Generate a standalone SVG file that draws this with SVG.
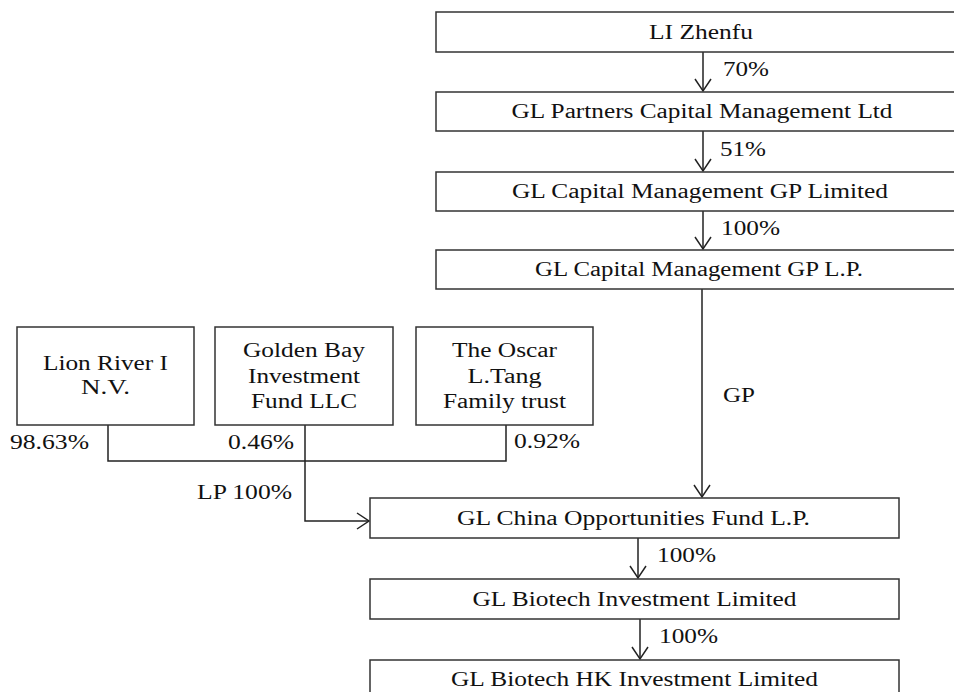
<svg xmlns="http://www.w3.org/2000/svg" width="954" height="692" viewBox="0 0 954 692">
<style>
.box{fill:#fff;stroke:#333;stroke-width:1.5}
.t{font-family:"Liberation Serif","Times New Roman",serif;font-size:20px;fill:#111;text-anchor:middle}
.l{font-family:"Liberation Serif","Times New Roman",serif;font-size:20px;fill:#111}
.c{fill:none;stroke:#222;stroke-width:1.5}
</style>
<defs>
<marker id="ah" markerUnits="userSpaceOnUse" markerWidth="16" markerHeight="20" refX="13" refY="9" orient="auto">
<path d="M1,1 L13,9 L1,17" fill="none" stroke="#222" stroke-width="1.5"/>
</marker>
</defs>
<rect width="954" height="692" fill="#fff"/>
<g id="connectors">
<line class="c" x1="703" y1="52" x2="703" y2="91" marker-end="url(#ah)"/>
<line class="c" x1="703" y1="131" x2="703" y2="171" marker-end="url(#ah)"/>
<line class="c" x1="703" y1="211" x2="703" y2="249" marker-end="url(#ah)"/>
<line class="c" x1="702" y1="289" x2="702" y2="497" marker-end="url(#ah)"/>
<polyline class="c" points="108,425 108,461 506,461 506,425"/>
<polyline class="c" points="305,425 305,521 369,521" marker-end="url(#ah)"/>
<line class="c" x1="638" y1="538" x2="638" y2="578" marker-end="url(#ah)"/>
<line class="c" x1="640" y1="619" x2="640" y2="659" marker-end="url(#ah)"/>
<text class="l" x="723" y="76" textLength="46" lengthAdjust="spacingAndGlyphs">70%</text>
<text class="l" x="720" y="156" textLength="46" lengthAdjust="spacingAndGlyphs">51%</text>
<text class="l" x="721" y="235" textLength="59" lengthAdjust="spacingAndGlyphs">100%</text>
<text class="l" x="723" y="402" textLength="32" lengthAdjust="spacingAndGlyphs">GP</text>
<text class="l" x="10" y="449" textLength="79" lengthAdjust="spacingAndGlyphs">98.63%</text>
<text class="l" x="228" y="449" textLength="66" lengthAdjust="spacingAndGlyphs">0.46%</text>
<text class="l" x="514" y="448" textLength="66" lengthAdjust="spacingAndGlyphs">0.92%</text>
<text class="l" x="197" y="499" textLength="95" lengthAdjust="spacingAndGlyphs">LP 100%</text>
<text class="l" x="657" y="562" textLength="59" lengthAdjust="spacingAndGlyphs">100%</text>
<text class="l" x="659" y="643" textLength="59" lengthAdjust="spacingAndGlyphs">100%</text>
</g>
<g id="li-zhenfu">
<rect class="box" x="436" y="12" width="530" height="40"/>
<text class="t" x="701" y="38.5" textLength="104" lengthAdjust="spacingAndGlyphs">LI Zhenfu</text>
</g>
<g id="gl-partners">
<rect class="box" x="436" y="92" width="530" height="39"/>
<text class="t" x="702" y="118" textLength="381" lengthAdjust="spacingAndGlyphs">GL Partners Capital Management Ltd</text>
</g>
<g id="gl-cap-gp-ltd">
<rect class="box" x="436" y="172" width="530" height="39"/>
<text class="t" x="700" y="198" textLength="376" lengthAdjust="spacingAndGlyphs">GL Capital Management GP Limited</text>
</g>
<g id="gl-cap-gp-lp">
<rect class="box" x="436" y="250" width="530" height="39"/>
<text class="t" x="699" y="276" textLength="328" lengthAdjust="spacingAndGlyphs">GL Capital Management GP L.P.</text>
</g>
<g id="lion-river">
<rect class="box" x="17" y="327" width="177" height="98"/>
<text class="t" x="105.5" y="370" textLength="125" lengthAdjust="spacingAndGlyphs">Lion River I</text>
<text class="t" x="105.5" y="394" textLength="49" lengthAdjust="spacingAndGlyphs">N.V.</text>
</g>
<g id="golden-bay">
<rect class="box" x="215" y="327" width="178" height="98"/>
<text class="t" x="304" y="357" textLength="122" lengthAdjust="spacingAndGlyphs">Golden Bay</text>
<text class="t" x="304" y="382.5" textLength="112" lengthAdjust="spacingAndGlyphs">Investment</text>
<text class="t" x="304" y="407.5" textLength="106" lengthAdjust="spacingAndGlyphs">Fund LLC</text>
</g>
<g id="oscar-tang">
<rect class="box" x="416" y="327" width="177" height="98"/>
<text class="t" x="504.5" y="357" textLength="105" lengthAdjust="spacingAndGlyphs">The Oscar</text>
<text class="t" x="504.5" y="382.5" textLength="74" lengthAdjust="spacingAndGlyphs">L.Tang</text>
<text class="t" x="504.5" y="407.5" textLength="123" lengthAdjust="spacingAndGlyphs">Family trust</text>
</g>
<g id="gl-china">
<rect class="box" x="370" y="498" width="529" height="40"/>
<text class="t" x="633.5" y="524.5" textLength="353" lengthAdjust="spacingAndGlyphs">GL China Opportunities Fund L.P.</text>
</g>
<g id="gl-biotech">
<rect class="box" x="370" y="579" width="529" height="40"/>
<text class="t" x="634.5" y="605.5" textLength="324" lengthAdjust="spacingAndGlyphs">GL Biotech Investment Limited</text>
</g>
<g id="gl-biotech-hk">
<rect class="box" x="370" y="660" width="529" height="40"/>
<text class="t" x="634.5" y="686" textLength="367" lengthAdjust="spacingAndGlyphs">GL Biotech HK Investment Limited</text>
</g>
</svg>
